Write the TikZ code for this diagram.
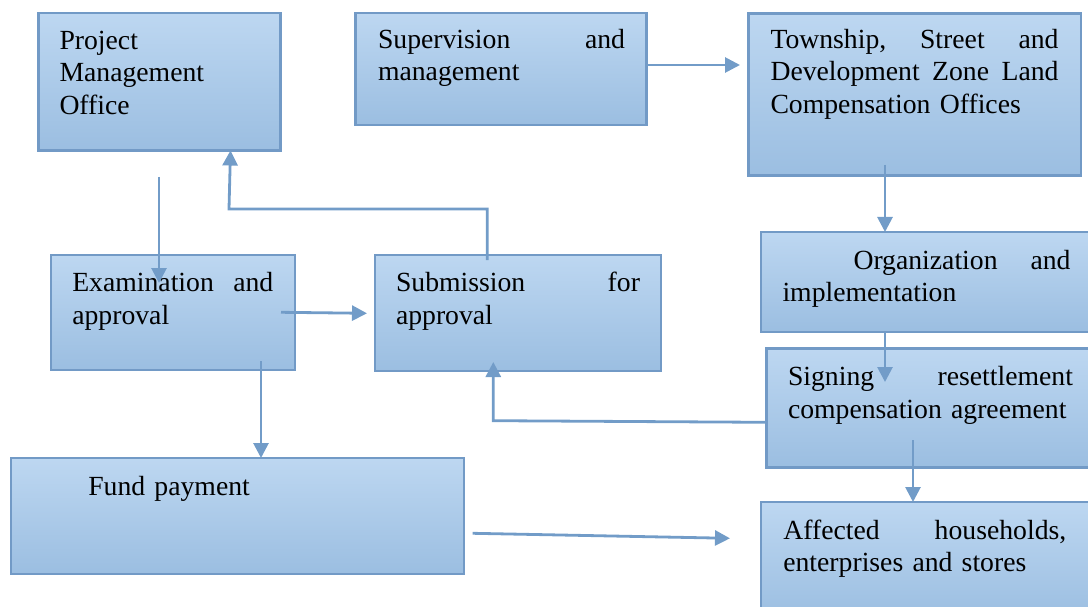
\documentclass[tikz,border=0pt]{standalone}
\usepackage{fontspec}
\setmainfont{Liberation Serif}
\usetikzlibrary{arrows.meta,calc}
\definecolor{bordc}{RGB}{114,154,198}
\definecolor{topc}{RGB}{189,215,241}
\definecolor{botc}{RGB}{155,190,225}
\definecolor{arrc}{RGB}{114,156,200}
\tikzset{
  box/.style={draw=bordc, line width=2.8pt, top color=topc, bottom color=botc,
    rectangle, inner sep=0pt, outer sep=0pt, anchor=north west},
  lbl/.style={anchor=north west, inner sep=0pt, outer sep=0pt, text width=#1, align=left,
    font=\fontsize{27.7}{32.5}\selectfont},
  arr/.style={draw=arrc, line width=2.8pt, -{Triangle[length=15pt,width=15pt]}},
}
\newcommand{\bx}[5]{\node[box, minimum width={#4-#2}, minimum height={#5-#3}] (#1) at (#2,#3) {};}
\begin{document}
\begin{tikzpicture}[x=1pt,y=-1pt]
\useasboundingbox (0,0) rectangle (1088,607);
% boxes
\bx{pmo}{38.5}{13}{280.5}{150.5}
\bx{sup}{355.5}{13}{646.5}{125}
\bx{town}{748.5}{13.5}{1081}{175.5}
\bx{exam}{51}{255}{295}{370}
\bx{subm}{375}{255}{661}{371}
\bx{org}{761}{232}{1100}{332}
\bx{sign}{766.5}{348.5}{1100}{467.5}
\bx{fund}{11}{458}{464}{574}
\bx{aff}{761}{502}{1100}{620}
% texts
\node[lbl=198pt] (pmo-t) at (59.5,26.6) {\strut Project\\Management\\Office};
\node[lbl=247pt] (sup-t) at (378,25.6) {\strut Supervision\hfill and\\management};
\node[lbl=288pt] (town-t) at (770.5,25.6) {\strut Township,\hfill Street\hfill and\\Development\hfill Zone\hfill Land\\Compensation Offices};
\node[lbl=201pt] (exam-t) at (72.3,269) {\strut Examination\hfill and\\approval};
\node[lbl=244pt] (subm-t) at (396,269) {\strut Submission\hfill for\\approval};
\node[lbl=288pt] (org-t) at (782.5,246.5) {\strut\hspace*{71pt}Organization\hfill and\\implementation};
\node[lbl=285pt] (sign-t) at (788,363) {\strut Signing\hfill resettlement\\compensation agreement};
\node[lbl=300pt] (fund-t) at (88.3,473) {\strut Fund payment};
\node[lbl=283pt] (aff-t) at (783.3,516.3) {\strut Affected\hfill households,\\enterprises and stores};
% free ends
\coordinate (a1) at (159,177);
\coordinate (a2) at (159,283);
\coordinate (c1) at (281,312.3);
\coordinate (c2) at (367,313.3);
\coordinate (d1) at (261,361);
\coordinate (j1) at (472.7,533.3);
\coordinate (j2) at (730,538.3);
\coordinate (e2) at (740,65);
\coordinate (g2) at (885,382);
\coordinate (h2) at (493.3,362);
\coordinate (i1) at (913,440);
\coordinate (f1) at (885,165);
\coordinate (b1) at (487.3,260);
% connectors
\draw[arr] (a1) -- (a2);
\draw[arr] (b1) -- (487.3,209) -- (229,209) -- (pmo.south -| 230.5,0);
\draw[arr] (c1) -- (c2);
\draw[arr] (d1) -- (fund.north -| d1);
\draw[arr] (sup.east |- e2) -- (e2);
\draw[arr] (f1) -- (org.north -| f1);
\draw[arr] (org.south -| g2) -- (g2);
\draw[arr] (sign.west |- 0,422.3) -- (493.3,420.7) -- (h2);
\draw[arr] (i1) -- (aff.north -| i1);
\draw[arr] (j1) -- (j2);
\end{tikzpicture}
\end{document}
